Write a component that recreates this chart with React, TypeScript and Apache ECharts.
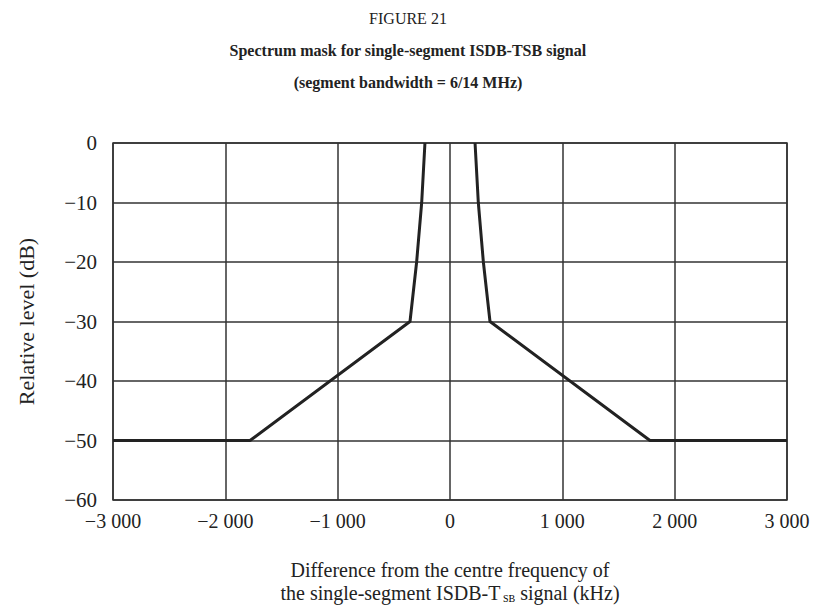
import React, { useEffect, useRef } from "react";
import * as echarts from "echarts";

const freqKHz = [-3000, -1780, -356, -297, -252, -223, null, 223, 252, 297, 356, 1780, 3000];
const levelDb = [-50, -50, -30, -20, -10, 0, null, 0, -10, -20, -30, -50, -50];
const xTicks = [-3000, -2000, -1000, 0, 1000, 2000, 3000];
const yTicks = [-60, -50, -40, -30, -20, -10, 0];

const figNumber = "FIGURE 21";
const titleLine1 = "Spectrum mask for single-segment ISDB-TSB signal";
const titleLine2 = "(segment bandwidth = 6/14 MHz)";
const yName = "Relative level (dB)";
const xName1 = "Difference from the centre frequency of";

const fmt = (v: number) => {
  const s = Math.abs(v).toString().replace(/\B(?=(\d{3})+(?!\d))/g, " ");
  return (v < 0 ? "\u2212" : "") + s;
};

export default function App() {
  const ref = useRef<HTMLDivElement>(null);
  useEffect(() => {
    if (!ref.current) return;
    const chart = echarts.init(ref.current, null, { renderer: "svg" });
    const serif = "Liberation Serif, Times New Roman, serif";
    const data = freqKHz.map((x, i) => (x === null ? [null, null] : [x, levelDb[i]]));
    chart.setOption({
      animation: false,
      backgroundColor: "#fff",
      textStyle: { fontFamily: serif },
      grid: { left: 113, right: 29, top: 143, bottom: 112, show: true, borderColor: "#333", borderWidth: 1.5 },
      xAxis: {
        type: "value",
        min: xTicks[0],
        max: xTicks[xTicks.length - 1],
        interval: 1000,
        axisLine: { show: false },
        axisTick: { show: false },
        splitLine: { show: true, lineStyle: { color: "#333", width: 1.5 } },
        axisLabel: { formatter: (v: number) => fmt(v), fontFamily: serif, fontSize: 20, color: "#222", margin: 11 },
      },
      yAxis: {
        type: "value",
        min: yTicks[0],
        max: yTicks[yTicks.length - 1],
        interval: 10,
        name: yName,
        nameLocation: "middle",
        nameGap: 76,
        nameTextStyle: { fontFamily: serif, fontSize: 22, color: "#222" },
        axisLine: { show: false },
        axisTick: { show: false },
        splitLine: { show: true, lineStyle: { color: "#333", width: 1.5 } },
        axisLabel: { formatter: (v: number) => fmt(v), fontFamily: serif, fontSize: 21, color: "#222", margin: 16 },
      },
      series: [
        {
          type: "line",
          data,
          connectNulls: false,
          symbol: "none",
          lineStyle: { color: "#222", width: 3 },
        },
      ],
      graphic: [
        { type: "text", left: "center", top: 10, style: { text: figNumber, font: `16px ${serif}`, fill: "#222" } },
        { type: "text", left: "center", top: 42, style: { text: titleLine1, font: `bold 16px ${serif}`, fill: "#222" } },
        { type: "text", left: "center", top: 74, style: { text: titleLine2, font: `bold 16px ${serif}`, fill: "#222" } },
        {
          type: "text",
          x: 450,
          y: 560,
          style: { text: xName1, font: `20px ${serif}`, fill: "#222", align: "center" },
        },
        {
          type: "text",
          x: 450,
          y: 583,
          style: {
            text: "{a|the single-segment ISDB-T}{s| SB}{a| signal (kHz)}",
            align: "center",
            rich: {
              a: { fontFamily: serif, fontSize: 20, fill: "#222", color: "#222" },
              s: { fontFamily: serif, fontSize: 10, color: "#222", verticalAlign: "bottom", padding: [9, 0, 0, 0] },
            },
          },
        },
      ],
    });
    return () => chart.dispose();
  }, []);
  return <div ref={ref} style={{ position: "fixed", left: 0, top: 0, width: 816, height: 612 }} />;
}
